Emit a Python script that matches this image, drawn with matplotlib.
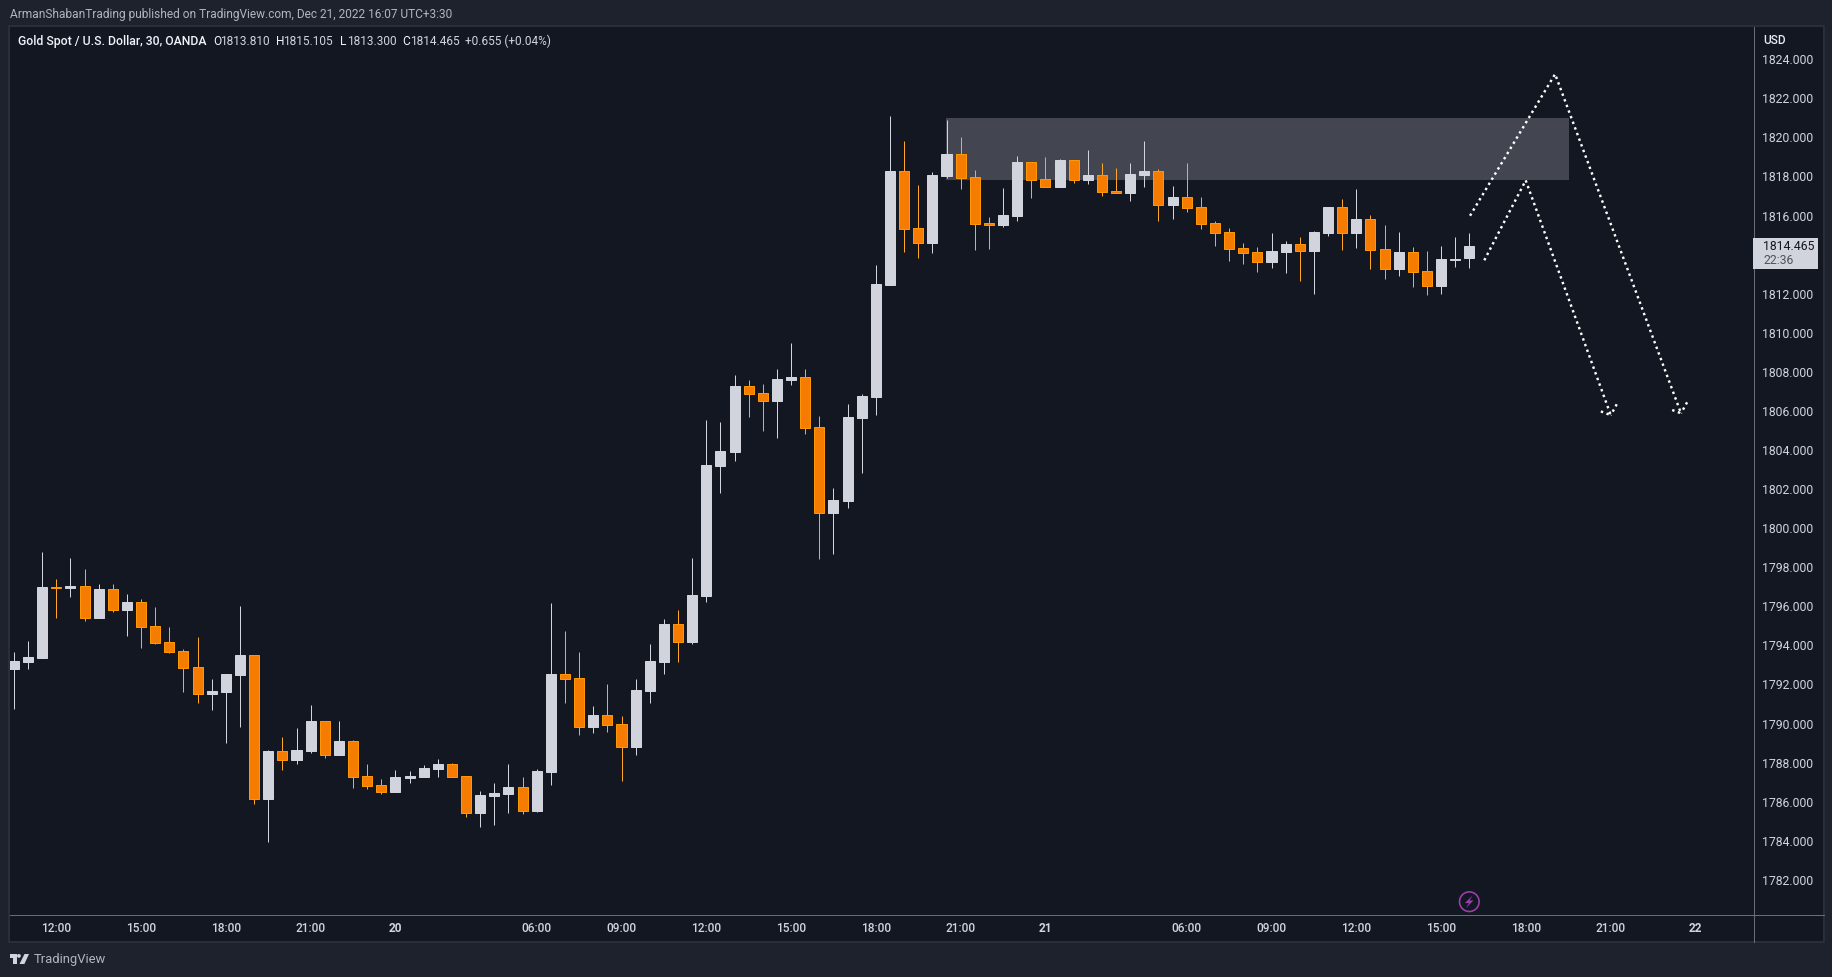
import numpy as np
import matplotlib
matplotlib.use("Agg")
import matplotlib.pyplot as plt
from matplotlib.patches import Rectangle, Circle, Polygon
from matplotlib.transforms import Affine2D
from matplotlib.lines import Line2D

# ==============================
# DATA
# ==============================
opens = [
    1792.79, 1793.15, 1793.36, 1796.99, 1796.94, 1797.04, 1795.40, 1796.89, 1795.81, 1796.22,
    1794.99, 1794.18, 1793.72, 1792.90, 1791.51, 1791.62, 1792.49, 1793.51, 1786.14, 1788.60,
    1788.14, 1788.60, 1790.13, 1788.39, 1789.11, 1787.32, 1786.86, 1786.50, 1787.22, 1787.27,
    1787.68, 1787.93, 1787.32, 1785.42, 1786.29, 1786.40, 1786.75, 1785.53, 1787.52, 1792.54,
    1792.33, 1789.83, 1790.44, 1789.98, 1788.80, 1791.66, 1793.15, 1795.09, 1794.17, 1796.53,
    1803.18, 1803.89, 1807.27, 1806.91, 1806.50, 1807.58, 1807.73, 1805.17, 1800.77, 1801.39,
    1805.63, 1806.71, 1812.44, 1818.27, 1815.36, 1814.59, 1818.02, 1819.14, 1817.97, 1815.61,
    1815.51, 1815.97, 1818.74, 1817.87, 1817.46, 1818.84, 1817.82, 1818.07, 1817.25, 1817.15,
    1818.07, 1818.28, 1816.54, 1816.95, 1816.43, 1815.61, 1815.15, 1814.34, 1814.13, 1813.62,
    1814.13, 1814.54, 1814.18, 1815.11, 1816.44, 1815.11, 1815.82, 1814.29, 1813.26, 1814.13,
    1813.16, 1812.39, 1813.72, 1813.81,
]
highs = [
    1793.66, 1794.23, 1798.78, 1797.40, 1798.48, 1797.91, 1797.14, 1797.14, 1796.63, 1796.38,
    1795.97, 1794.94, 1793.82, 1794.43, 1792.28, 1792.54, 1796.02, 1793.51, 1788.65, 1789.31,
    1789.77, 1790.95, 1790.13, 1790.13, 1789.16, 1787.93, 1787.16, 1787.62, 1787.57, 1787.88,
    1788.19, 1787.98, 1787.32, 1786.55, 1786.96, 1787.93, 1787.27, 1787.68, 1796.17, 1794.74,
    1793.66, 1790.90, 1792.02, 1790.39, 1792.28, 1794.07, 1795.35, 1795.81, 1798.47, 1805.53,
    1805.43, 1807.83, 1807.58, 1807.37, 1808.14, 1809.47, 1808.14, 1805.74, 1802.05, 1806.35,
    1806.86, 1813.46, 1821.09, 1819.81, 1817.56, 1818.22, 1820.88, 1820.01, 1818.33, 1815.92,
    1817.40, 1819.04, 1818.74, 1818.99, 1818.89, 1818.84, 1819.35, 1818.69, 1818.43, 1818.69,
    1819.81, 1818.38, 1817.51, 1818.69, 1816.95, 1815.72, 1815.36, 1814.59, 1814.39, 1815.10,
    1814.69, 1814.90, 1815.21, 1816.44, 1816.85, 1817.36, 1816.03, 1815.52, 1815.16, 1814.39,
    1814.18, 1814.44, 1814.90, 1815.105,
]
lows = [
    1790.75, 1792.79, 1793.36, 1795.40, 1796.48, 1795.25, 1795.40, 1795.71, 1794.48, 1793.87,
    1794.07, 1793.61, 1791.62, 1791.05, 1790.70, 1789.01, 1789.83, 1785.88, 1783.94, 1787.62,
    1787.93, 1788.49, 1788.24, 1788.39, 1786.70, 1786.65, 1786.40, 1786.50, 1786.96, 1787.27,
    1787.27, 1787.27, 1785.22, 1784.71, 1784.81, 1785.42, 1785.37, 1785.48, 1786.86, 1791.05,
    1789.42, 1789.52, 1789.57, 1787.06, 1788.39, 1791.05, 1792.53, 1793.15, 1794.07, 1796.22,
    1801.79, 1803.43, 1805.68, 1804.97, 1804.61, 1807.32, 1804.81, 1798.42, 1798.67, 1801.03,
    1802.82, 1805.79, 1812.44, 1814.13, 1813.82, 1814.08, 1817.92, 1817.35, 1814.23, 1814.28,
    1815.41, 1815.72, 1816.89, 1817.46, 1817.46, 1817.66, 1817.61, 1817.00, 1817.15, 1816.74,
    1817.46, 1815.72, 1815.82, 1816.18, 1815.31, 1814.44, 1813.67, 1813.52, 1813.11, 1813.31,
    1813.06, 1812.65, 1811.98, 1814.95, 1814.24, 1814.34, 1813.26, 1812.75, 1812.91, 1812.34,
    1811.93, 1811.98, 1813.37, 1813.30,
]
closes = [
    1793.20, 1793.41, 1796.99, 1796.94, 1797.06, 1795.40, 1796.89, 1795.81, 1796.22, 1794.94,
    1794.12, 1793.66, 1792.85, 1791.51, 1791.67, 1792.54, 1793.51, 1786.14, 1788.60, 1788.14,
    1788.65, 1790.13, 1788.39, 1789.11, 1787.27, 1786.81, 1786.50, 1787.27, 1787.32, 1787.73,
    1787.93, 1787.27, 1785.42, 1786.35, 1786.45, 1786.75, 1785.53, 1787.57, 1792.54, 1792.28,
    1789.83, 1790.44, 1789.93, 1788.80, 1791.72, 1793.20, 1795.09, 1794.17, 1796.58, 1803.23,
    1803.94, 1807.27, 1806.86, 1806.50, 1807.63, 1807.73, 1805.12, 1800.77, 1801.44, 1805.68,
    1806.76, 1812.49, 1818.27, 1815.31, 1814.59, 1818.07, 1819.14, 1817.92, 1815.56, 1815.51,
    1816.02, 1818.74, 1817.82, 1817.46, 1818.84, 1817.82, 1818.07, 1817.20, 1817.15, 1818.12,
    1818.28, 1816.54, 1816.95, 1816.38, 1815.56, 1815.10, 1814.28, 1814.08, 1813.62, 1814.18,
    1814.54, 1814.18, 1815.16, 1816.44, 1815.11, 1815.82, 1814.24, 1813.26, 1814.13, 1813.11,
    1812.39, 1813.78, 1813.78, 1814.465,
]

time_ticks = [3, 9, 15, 21, 27, 37, 43, 49, 55, 61, 67, 73, 83, 89, 95, 101, 107, 113, 119]
time_labels = ["12:00", "15:00", "18:00", "21:00", "20", "06:00", "09:00", "12:00", "15:00",
               "18:00", "21:00", "21", "06:00", "09:00", "12:00", "15:00", "18:00", "21:00", "22"]
day_labels = ["20", "21", "22"]

# 1814 is hidden behind the last price tag
price_ticks = [p for p in range(1782, 1826, 2) if p != 1814]

zone_x = [65.97, 110.06]
zone_prices = [1817.82, 1820.99]

path1_x = [103.05, 109.07, 117.98, 117.15]
path1_y = [1815.99, 1823.24, 1805.88, 1806.10]
head1_x = [118.41, 117.98]
head1_y = [1806.44, 1805.88]

path2_x = [104.06, 106.99, 113.01, 112.18]
path2_y = [1813.71, 1817.80, 1805.78, 1806.01]
head2_x = [113.43, 113.01]
head2_y = [1806.34, 1805.78]

# ==============================
# STYLE
# ==============================
W, H = 1833, 977
OUTER = "#1e222d"
PANE = "#131722"
BORDER = "#2a2e39"
SEP = "#6a6d78"
TEXT = "#d1d4dc"
WHITE_BAR = "#d1d4dc"
ORANGE_FILL = "#f57c00"
ORANGE_EDGE = "#ff9800"
ORANGE_WICK = "#ffa726"
FONT = "Roboto"
PXPT = 0.72

plt.rcParams["font.family"] = FONT

fig = plt.figure(figsize=(W / 100, H / 100), dpi=100, facecolor=OUTER)
# top-left pixel coordinates for the chrome around the chart
PX = Affine2D().scale(1, -1).translate(0, H)


def px_text(x, y, s, color=TEXT, size=8.6, weight="normal", ha="left"):
    fig.text(x, y, s, color=color, fontsize=size, fontweight=weight, ha=ha, va="center", transform=PX)


# ==============================
# CHROME
# ==============================
fig.add_artist(Rectangle((9, 26), 1815, 916, facecolor=PANE, edgecolor=BORDER, lw=2 * PXPT, transform=PX, zorder=-1))

# ==============================
# CHART
# ==============================
left, right, top, bottom = 10, 1753.5, 27, 914
ax = fig.add_axes([left / W, 1 - bottom / H, (right - left) / W, (bottom - top) / H])
ax.set_facecolor(PANE)
ax.set_xlim(-0.276, 123.11)
ax.set_ylim(1780.25, 1825.65)
for s in ax.spines.values():
    s.set_visible(False)

o = np.array(opens)
h = np.array(highs)
l = np.array(lows)
c = np.array(closes)
x = np.arange(len(o))
up = c >= o

ax.add_patch(Rectangle((zone_x[0], zone_prices[0]), zone_x[1] - zone_x[0], zone_prices[1] - zone_prices[0],
                       facecolor="#434651", edgecolor="none", zorder=1))

ax.vlines(x[up], l[up], h[up], color=WHITE_BAR, lw=PXPT, zorder=2)
ax.vlines(x[~up], l[~up], h[~up], color=ORANGE_WICK, lw=PXPT, zorder=2)
ax.bar(x[up], (c - o)[up], bottom=o[up], width=0.71, color=WHITE_BAR, edgecolor=WHITE_BAR, lw=PXPT, zorder=3)
ax.bar(x[~up], (o - c)[~up], bottom=c[~up], width=0.71, color=ORANGE_FILL, edgecolor=ORANGE_EDGE, lw=PXPT, zorder=3)

dots = dict(color="#ffffff", lw=2.4 * PXPT, ls=(0, (1, 1.5)), dash_capstyle="butt", zorder=4)
ax.plot(path1_x, path1_y, **dots)
ax.plot(head1_x, head1_y, **dots)
ax.plot(path2_x, path2_y, **dots)
ax.plot(head2_x, head2_y, **dots)

# ==============================
# AXES
# ==============================
ax.set_xticks(time_ticks)
ax.set_xticklabels(time_labels)
ax.tick_params(axis="x", length=0, pad=6, labelsize=8.6, labelcolor=TEXT)
for lab in ax.get_xticklabels():
    if lab.get_text() in day_labels:
        lab.set_fontweight("bold")
    else:
        lab.set_fontweight("medium")

ax.yaxis.tick_right()
ax.set_yticks(price_ticks)
ax.set_yticklabels([f"{p:.3f}" for p in price_ticks])
ax.tick_params(axis="y", length=0, pad=6.2, labelsize=8.8, labelcolor=TEXT)

# axis separators
fig.add_artist(Line2D([10, 1824], [914.5, 914.5], color=SEP, lw=PXPT, transform=PX))
fig.add_artist(Line2D([1753.5, 1753.5], [27, 942], color=SEP, lw=PXPT, transform=PX))

# last price tag
fig.add_artist(Rectangle((1753, 238), 65, 31, facecolor=TEXT, edgecolor="none", transform=PX, zorder=5))
fig.text(1763, 246.7, f"{closes[-1]:.3f}", color=PANE, fontsize=8.8, va="center", transform=PX, zorder=6)
fig.text(1763, 261, "22:36", color="#50535e", fontsize=8.8, va="center", transform=PX, zorder=6)

px_text(1763, 40.7, "USD", color="#e8eaf0", weight="medium")

# ==============================
# TITLES
# ==============================
px_text(10, 14.7, "ArmanShabanTrading published on TradingView.com, Dec 21, 2022 16:07 UTC+3:30", color="#b2b5be")

px_text(18, 41.7, "Gold Spot / U.S. Dollar, 30, OANDA", color="#f0f3fa", weight="medium", size=8.8)
legend_parts = [(213, "O"), (276, "H"), (340, "L"), (402, "C")]
legend_values = [(220, "1813.810"), (283, "1815.105"), (347, "1813.300"), (410, "1814.465"),
                 (465, "+0.655 (+0.04%)")]
for xp, s in legend_parts:
    px_text(xp, 41.7, s, color="#f0f3fa")
for xp, s in legend_values:
    px_text(xp, 41.7, s, color=TEXT)

# ==============================
# BOLT ICON AND LOGO
# ==============================
fig.add_artist(Circle((1469.3, 901.7), 9.8, facecolor="none", edgecolor="#9c3fb0", lw=1.6 * PXPT, transform=PX))
fig.add_artist(Polygon([(1472.5, 895.5), (1465, 903), (1469, 903), (1466, 908), (1473.5, 900.5), (1469.5, 900.5)],
                       closed=True, facecolor="#9c3fb0", edgecolor="none", transform=PX))

logo = "#d1d4dc"
fig.add_artist(Polygon([(9.5, 954), (16.5, 954), (16.5, 964), (12.8, 964), (12.8, 957.6), (9.5, 957.6)],
                       closed=True, facecolor=logo, edgecolor="none", transform=PX))
fig.add_artist(Circle((18.9, 955.9), 1.9, facecolor=logo, edgecolor="none", transform=PX))
fig.add_artist(Polygon([(24.5, 954), (29, 954), (24.4, 964), (19.5, 964)],
                       closed=True, facecolor=logo, edgecolor="none", transform=PX))
px_text(33.3, 959.3, "TradingView", color="#b2b5be", size=9.4)

fig.savefig("out.png", dpi=100, facecolor=OUTER)
